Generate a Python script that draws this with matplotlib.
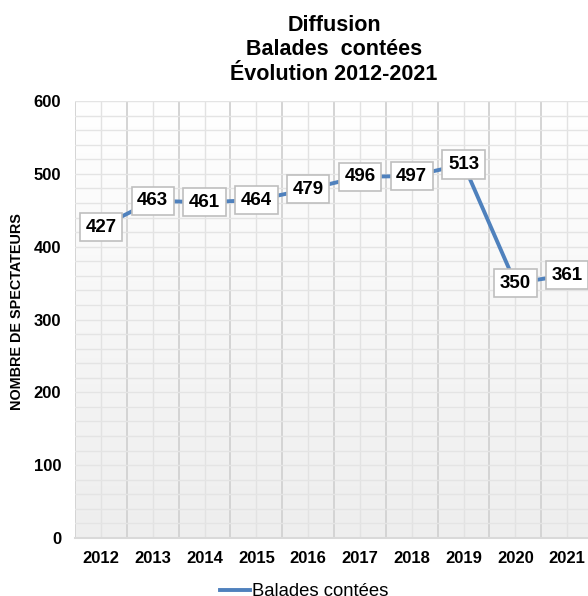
import numpy as np
import matplotlib.pyplot as plt
from matplotlib.colors import LinearSegmentedColormap
from matplotlib.ticker import MultipleLocator

plt.rcParams['font.family'] = ['Liberation Sans', 'DejaVu Sans']

annees = ['2012', '2013', '2014', '2015', '2016', '2017', '2018', '2019', '2020', '2021']
spectateurs = [427, 463, 461, 464, 479, 496, 497, 513, 350, 361]

fig = plt.figure(figsize=(5.88, 5.96), dpi=100)
ax = fig.add_axes([0.1276, 0.0973, 0.881, 0.7332])

x = np.arange(len(annees))
ax.set_xlim(-0.5, len(annees) - 0.5)
ax.set_ylim(0, 600)

# fond en degradé
grad = np.linspace(0, 1, 256).reshape(-1, 1)
ax.imshow(grad, extent=[-0.5, len(annees) - 0.5, 0, 600], aspect='auto',
          cmap=LinearSegmentedColormap.from_list('g', ['#eeeeee', '#ffffff']),
          origin='lower', zorder=0)

ax.yaxis.set_major_locator(MultipleLocator(100))
ax.yaxis.set_minor_locator(MultipleLocator(20))
ax.set_xticks(x)
ax.set_xticks(np.arange(-0.5, len(annees)), minor=True)
ax.set_xticklabels(annees, fontsize=12, fontweight='bold')
for lab in ax.get_yticklabels():
    lab.set_fontsize(12)
    lab.set_fontweight('bold')
ax.tick_params(which='both', length=0)
ax.tick_params(axis='x', pad=9)
ax.tick_params(axis='y', pad=10)

ax.grid(which='minor', axis='x', color='#d4d4d4', linewidth=1.4, zorder=1)
ax.grid(which='major', axis='x', color='#e2e2e2', linewidth=1.0, zorder=1)
ax.grid(which='both', axis='y', color='#e4e4e4', linewidth=1.0, zorder=1)
ax.set_axisbelow(True)

for s in ['top', 'right', 'left']:
    ax.spines[s].set_visible(False)
ax.spines['bottom'].set_color('#d9d9d9')
ax.spines['bottom'].set_linewidth(1.5)

ax.plot(x, spectateurs, color='#4f81bd', linewidth=2.8, label='Balades contées', zorder=3)
for xi, v in zip(x, spectateurs):
    ax.text(xi, v, str(v), ha='center', va='center', fontsize=13.5, fontweight='bold',
            zorder=4, bbox=dict(boxstyle='square,pad=0.3', fc='white', ec='#bfbfbf', lw=1.2))

ax.set_ylabel('NOMBRE DE SPECTATEURS', fontsize=10.4, fontweight='bold')
ax.yaxis.set_label_coords(-0.0994, 0.519)

ax.set_title('Diffusion\nBalades  contées\nÉvolution 2012-2021', fontsize=15.5,
             fontweight='bold', linespacing=1.24, pad=15)

ax.legend(loc='upper center', bbox_to_anchor=(0.443, -0.066), frameon=False,
          fontsize=13.3, handlelength=1.6, handletextpad=0.15)

fig.savefig('out.png', dpi=100)
